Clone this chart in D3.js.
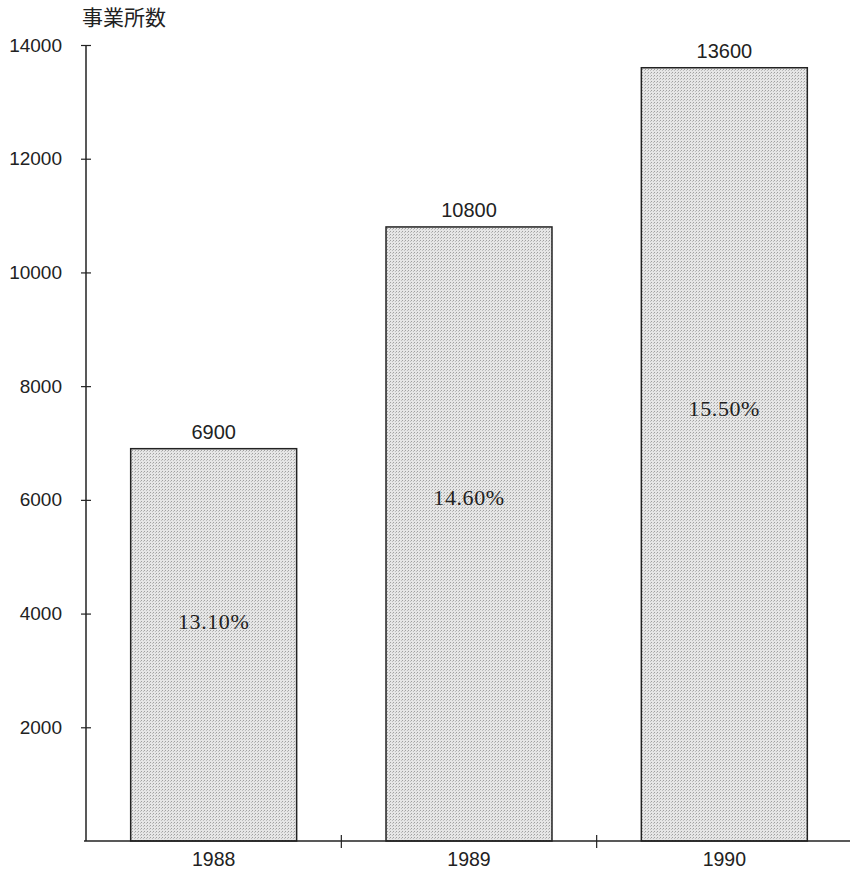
<!DOCTYPE html>
<html><head><meta charset="utf-8">
<script src="https://cdn.jsdelivr.net/npm/d3@7"></script>
<style>
html,body{margin:0;padding:0;background:#fff;}
</style>
</head><body>
<svg id="chart" width="850" height="871"></svg>
<script>
const years = ["1988", "1989", "1990"];
const counts = [6900, 10800, 13600];
const shares = ["13.10%", "14.60%", "15.50%"];
const yTicks = [2000, 4000, 6000, 8000, 10000, 12000, 14000];
const yTitle = "事業所数";

(function () {
const svg = d3.select("#chart");
const mLeft = 86, mRight = 852, mTop = 45, mBottom = 841;

const y = d3.scaleLinear().domain([0, 14000]).range([mBottom, mTop]);
const xCat = d3.scaleBand().domain(years).range([mLeft, mRight]).padding(0);
const xBar = d3.scaleBand().domain(years).range([mLeft, mRight]).paddingInner(0.35).paddingOuter(0.175);

const defs = svg.append("defs");
const pat = defs.append("pattern").attr("id", "dots").attr("patternUnits", "userSpaceOnUse")
  .attr("width", 3).attr("height", 3);
pat.append("rect").attr("width", 3).attr("height", 3).attr("fill", "#e6e6e6");
pat.append("rect").attr("x", 0).attr("y", 0).attr("width", 1).attr("height", 1).attr("fill", "#a0a0a0");
pat.append("rect").attr("x", 2).attr("y", 1).attr("width", 1).attr("height", 1).attr("fill", "#bdbdbd");

const data = years.map((yr, i) => ({year: yr, value: counts[i], share: shares[i]}));

svg.selectAll("rect.bar").data(data).join("rect")
  .attr("class", "bar")
  .attr("x", d => xBar(d.year))
  .attr("y", d => y(d.value))
  .attr("width", xBar.bandwidth())
  .attr("height", d => mBottom - y(d.value))
  .attr("fill", "url(#dots)")
  .attr("stroke", "#222")
  .attr("stroke-width", 1.5);

svg.selectAll("text.val").data(data).join("text")
  .attr("class", "val")
  .attr("x", d => xBar(d.year) + xBar.bandwidth() / 2)
  .attr("y", d => y(d.value) - 10)
  .attr("text-anchor", "middle")
  .attr("font-family", "Liberation Sans, Arial, sans-serif")
  .attr("font-size", 20)
  .attr("fill", "#222")
  .text(d => d.value);

svg.selectAll("text.share").data(data).join("text")
  .attr("class", "share")
  .attr("x", d => xBar(d.year) + xBar.bandwidth() / 2)
  .attr("y", d => y(d.value * 0.56) + 8)
  .attr("text-anchor", "middle")
  .attr("font-family", "Liberation Serif, DejaVu Serif, serif")
  .attr("font-size", 22)
  .attr("letter-spacing", 0.6)
  .attr("fill", "#222")
  .text(d => d.share);

const yAxis = d3.axisLeft(y).tickValues(yTicks).tickSize(0).tickPadding(24).tickFormat(d3.format("d"));
const gy = svg.append("g").attr("transform", `translate(${mLeft},0)`).call(yAxis);
gy.select(".domain").attr("stroke", "#222").attr("stroke-width", 1.5).attr("d", `M0,${mTop}V${mBottom}`);
gy.selectAll(".tick text").attr("font-family", "Liberation Sans, Arial, sans-serif").attr("font-size", 19).attr("fill", "#222");
gy.selectAll(".tick").append("line").attr("x1", -5).attr("x2", 5).attr("stroke", "#222").attr("stroke-width", 1.2);

const xAxis = d3.axisBottom(xCat).tickSize(0).tickPadding(11);
const gx = svg.append("g").attr("transform", `translate(0,${mBottom})`).call(xAxis);
gx.select(".domain").attr("stroke", "#222").attr("stroke-width", 1.5).attr("d", `M${mLeft - 2},0H850`);
gx.selectAll(".tick text").attr("font-family", "Liberation Sans, Arial, sans-serif").attr("font-size", 19.5).attr("fill", "#222");
gx.selectAll("line.sep").data(years.slice(1)).join("line")
  .attr("class", "sep")
  .attr("x1", d => xCat(d)).attr("x2", d => xCat(d))
  .attr("y1", -6).attr("y2", 7)
  .attr("stroke", "#222").attr("stroke-width", 1.2);

svg.append("text")
  .attr("x", 82).attr("y", 25)
  .attr("font-family", "Noto Sans CJK JP, sans-serif")
  .attr("font-size", 21)
  .attr("fill", "#222")
  .text(yTitle);
})();
</script>
</body></html>
